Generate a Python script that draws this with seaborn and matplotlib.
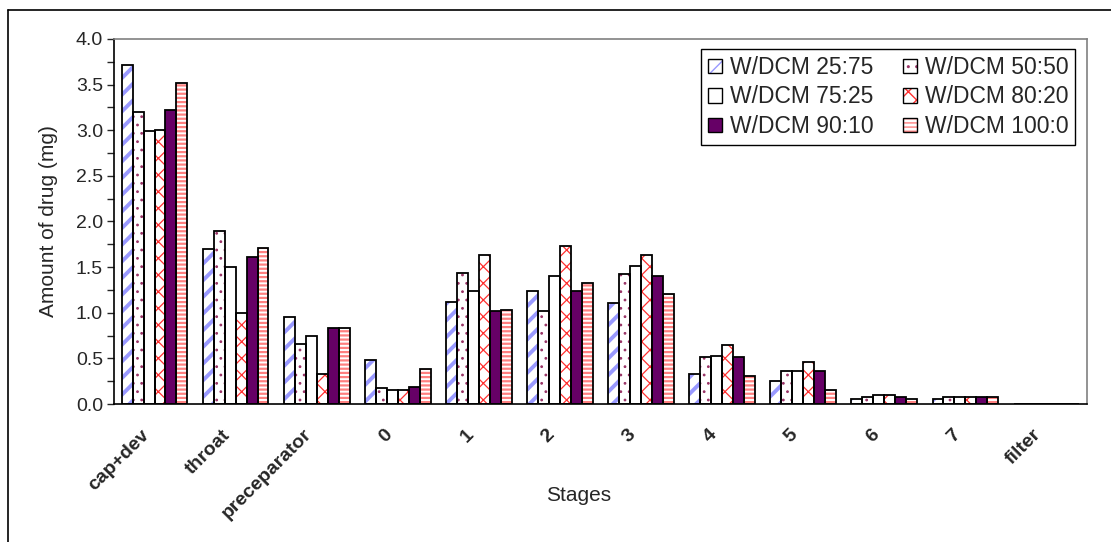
import numpy as np
import pandas as pd
import seaborn as sns
import matplotlib.pyplot as plt
from matplotlib.patches import Patch, Rectangle
from matplotlib.lines import Line2D
from matplotlib.legend_handler import HandlerTuple
from matplotlib.transforms import ScaledTranslation

# stages on the x axis
stages = ["cap+dev", "throat", "preceparator", "0", "1", "2", "3", "4", "5", "6", "7", "filter"]

# amount of drug (mg) per formulation
w25_75 = [3.71, 1.70, 0.95, 0.48, 1.12, 1.24, 1.11, 0.33, 0.25, 0.05, 0.05, 0.0]
w50_50 = [3.20, 1.90, 0.66, 0.17, 1.44, 1.02, 1.42, 0.52, 0.36, 0.08, 0.08, 0.0]
w75_25 = [2.99, 1.50, 0.74, 0.15, 1.24, 1.40, 1.51, 0.53, 0.36, 0.10, 0.08, 0.0]
w80_20 = [3.00, 1.00, 0.33, 0.15, 1.63, 1.73, 1.63, 0.65, 0.46, 0.10, 0.08, 0.0]
w90_10 = [3.22, 1.61, 0.83, 0.19, 1.02, 1.24, 1.40, 0.52, 0.36, 0.08, 0.08, 0.0]
w100_0 = [3.52, 1.71, 0.83, 0.38, 1.03, 1.33, 1.21, 0.31, 0.15, 0.06, 0.08, 0.0]

series_names = ["W/DCM 25:75", "W/DCM 50:50", "W/DCM 75:25",
                "W/DCM 80:20", "W/DCM 90:10", "W/DCM 100:0"]
series_values = [w25_75, w50_50, w75_25, w80_20, w90_10, w100_0]

# (face colour, hatch, hatch colour, hatch linewidth)
styles = {
    "W/DCM 25:75": ("white", "//", "#9999FF", 2.8),
    "W/DCM 50:50": ("white", "..", "#993366", 0.8),
    "W/DCM 75:25": ("white", "", "black", 1.0),
    "W/DCM 80:20": ("white", "xx", "#FF3030", 0.9),
    "W/DCM 90:10": ("#660066", "", "black", 1.0),
    "W/DCM 100:0": ("white", "----", "#FF8080", 1.6),
}

rows = []
for name, vals in zip(series_names, series_values):
    for st, v in zip(stages, vals):
        rows.append({"Stage": st, "Amount": v, "Series": name})
df = pd.DataFrame(rows)

sns.set_style("white")
plt.rcParams["font.family"] = ["Liberation Sans", "DejaVu Sans"]
plt.rcParams["hatch.linewidth"] = 1.0

fig = plt.figure(figsize=(11.11, 5.42), dpi=100)
ax = fig.add_axes([0.1026, 0.2546, 0.8758, 0.6735])

sns.barplot(data=df, x="Stage", y="Amount", hue="Series", order=stages,
            hue_order=series_names,
            palette={k: v[0] for k, v in styles.items()},
            width=0.81, gap=0, legend=False, ax=ax, saturation=1)

# hatch fill underneath, black outline drawn on top
for name, cont in zip(series_names, ax.containers):
    face, hatch, hcol, hlw = styles[name]
    for bar in cont:
        bar.set_facecolor(face)
        if hatch:
            bar.set_hatch(hatch)
            bar.set_edgecolor(hcol)
            if hasattr(bar, "set_hatch_linewidth"):
                bar.set_hatch_linewidth(hlw)
        else:
            bar.set_edgecolor("black")
        bar.set_linewidth(0)
        ax.add_patch(Rectangle((bar.get_x(), bar.get_y()), bar.get_width(),
                               bar.get_height(), fill=False,
                               edgecolor="black", linewidth=1.3, zorder=3))

ax.set_xlim(-0.5, len(stages) - 0.5)
ax.set_ylim(0, 4.0)
ax.set_yticks(np.arange(0, 4.01, 0.5))
ax.set_yticks(np.arange(0, 4.01, 0.25), minor=True)
ax.set_yticklabels([f"{t:.1f}" for t in np.arange(0, 4.01, 0.5)], fontsize=14)
ax.set_xticks(np.arange(-0.5, len(stages), 1), minor=True)
ax.set_xticks(range(len(stages)))
ax.set_xticklabels(stages, rotation=45, ha="right", va="top",
                   rotation_mode="anchor", fontsize=14, fontweight="bold")
ax.tick_params(axis="x", which="major", length=0, pad=16)
ax.tick_params(axis="x", which="minor", length=5, direction="out", width=1)
ax.tick_params(axis="y", which="both", length=5, direction="out", width=1,
               left=True)
ax.tick_params(axis="y", which="major", pad=3)

# nudge rotated stage labels left, as in the original
shift = ScaledTranslation(-14 / 100, 0, fig.dpi_scale_trans)
for lab in ax.get_xticklabels():
    lab.set_transform(lab.get_transform() + shift)

ax.set_xlabel("Stages", fontsize=15)
ax.xaxis.set_label_coords(0.478, -0.225)
ax.set_ylabel("Amount of drug (mg)", fontsize=15)
ax.yaxis.set_label_coords(-0.058, 0.5)

for side in ["left", "bottom"]:
    ax.spines[side].set_color("black")
    ax.spines[side].set_linewidth(1.2)
for side in ["top", "right"]:
    ax.spines[side].set_color("#808080")
    ax.spines[side].set_linewidth(1.2)

# legend: row-wise order in 2 columns
handles = {}
for name in series_names:
    face, hatch, hcol, hlw = styles[name]
    fill = Patch(facecolor=face, edgecolor=hcol if hatch else "black",
                 hatch=hatch, linewidth=0)
    edge = Patch(facecolor="none", edgecolor="black", linewidth=1.0)
    handles[name] = (fill, edge)
order = [series_names[i] for i in (0, 2, 4, 1, 3, 5)]
leg = ax.legend([handles[n] for n in order], order, ncol=2,
                loc="upper right", bbox_to_anchor=(0.988, 0.972),
                fontsize=16.5, frameon=True, fancybox=False, framealpha=1,
                edgecolor="black", handlelength=0.6, handleheight=0.6,
                handletextpad=0.35, labelspacing=0.28, columnspacing=1.3,
                borderpad=0.3, borderaxespad=0,
                handler_map={tuple: HandlerTuple(ndivide=1)})
leg.get_frame().set_linewidth(1.0)

# chart-area border (left and top visible)
fig.add_artist(Line2D([8 / 1111, 8 / 1111], [0, 1 - 10 / 542],
                      transform=fig.transFigure, color="black", lw=1.2))
fig.add_artist(Line2D([8 / 1111, 1], [1 - 10 / 542, 1 - 10 / 542],
                      transform=fig.transFigure, color="black", lw=1.2))

plt.savefig("out.png", dpi=100)
